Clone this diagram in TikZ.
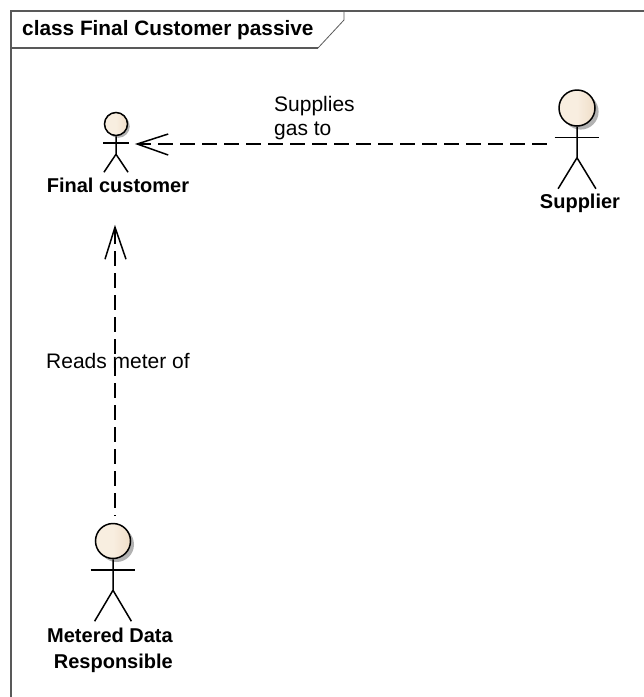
\documentclass[tikz,border=0pt]{standalone}
\usepackage{fontspec}
\setmainfont{Liberation Sans}
\usetikzlibrary{calc}
\tikzstyle{frame} = [draw=black!65, line width=1.3pt]
\tikzstyle{actorbox} = [rectangle, inner sep=0pt]
\tikzstyle{stick} = [draw=black, line width=1.5pt]
\tikzstyle{actorname} = [font=\bfseries\fontsize{20}{26}\selectfont, align=right, inner sep=0pt]
\tikzstyle{linktext} = [font=\fontsize{21}{24}\selectfont, align=left, inner sep=0pt]
\tikzstyle{dependency} = [line width=1.5pt, dash pattern=on 15pt off 7pt]
\tikzstyle{openhead} = [line width=1.5pt]
\definecolor{headfill}{RGB}{248,238,224}
% one stick figure: name of its centre coordinate, head radius, limb length
\newcommand{\actorfigure}[3]{
  \fill[black!30] ($(#1)+(#2*0.2,#2*0.2)$) circle (#2);
  \node (#1head) [circle, inner sep=0pt, minimum size=#2*2pt, draw=black, line width=1.5pt,
    left color=headfill, right color=headfill!85!brown, middle color=headfill] at (#1) {};
  \draw[stick] (#1head.south) -- ++(0,#3) coordinate (#1hip)
    -- ++(-#2*1.05,#3);
  \draw[stick] (#1hip) -- ++(#2*1.05,#3);
  \draw[stick] ($(#1head.south)+(-#3*0.72,#2*0.6)$) -- ++(#3*1.44,0);
}

\begin{document}
\begin{tikzpicture}[x=1pt, y=-1pt]
\useasboundingbox (0,0) rectangle (644,697);

% frame and its tab
\draw[frame] (11,697) -- (11,11) -- (644,11);
\draw[frame] (11,48) -- (318,48);
\draw[draw=black!65, line width=0.8pt] (318,48) -- (344,20) -- (344,11);
\node (title) [anchor=west, inner sep=0pt, font=\bfseries\fontsize{20.8}{24}\selectfont] at (22,30) {class Final Customer passive};

% actors
\coordinate (final) at (116,124);
\coordinate (supplier) at (577,108);
\coordinate (metered) at (113,541);
\actorfigure{final}{11.5}{18}
\actorfigure{supplier}{18}{31}
\actorfigure{metered}{17.5}{31}

\node (finalname) [actorname] at (118,185) {Final customer};
\node (suppliername) [actorname] at (580,203) {Supplier};
\node (meteredname) [actorname] at (110,650) {Metered Data\\Responsible};

% link ends
\node (finalside) [actorbox, minimum width=40pt, minimum height=40pt] at (117,144) {};
\node (supplierside) [actorbox, minimum width=60pt, minimum height=40pt] at (577,144) {};
\node (finaltop) [actorbox, minimum width=40pt, minimum height=30pt] at (115,212) {};
\node (meteredtop) [actorbox, minimum width=40pt, minimum height=10pt] at (115,521) {};

% links
\draw[dependency] (supplierside.west) -- (finalside.east);
\draw[openhead] ($(finalside.east)+(31,-10)$) -- (finalside.east) -- ($(finalside.east)+(31,11)$);
\draw[dependency, dash phase=14pt] (meteredtop.north) -- (finaltop.south);
\draw[openhead] ($(finaltop.south)+(-10,32)$) -- (finaltop.south) -- ($(finaltop.south)+(11,32)$);

\node (suppliestext) [linktext, anchor=north west] at (274,96) {Supplies\\gas to};
\node (readstext) [linktext, anchor=west] at (46,361) {Reads meter of};

\end{tikzpicture}
\end{document}
